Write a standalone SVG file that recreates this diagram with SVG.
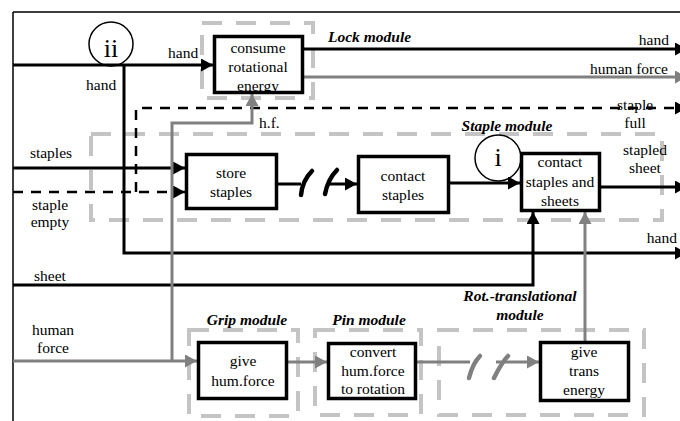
<svg xmlns="http://www.w3.org/2000/svg" width="680" height="421" viewBox="0 0 680 421" font-family="'Liberation Serif', 'DejaVu Serif', serif">
<defs>
<marker id="ab" markerUnits="userSpaceOnUse" markerWidth="13" markerHeight="13" refX="12" refY="6.5" orient="auto"><path d="M0,0 L12,6.5 L0,13 z" fill="#000"/></marker>
<marker id="ag" markerUnits="userSpaceOnUse" markerWidth="13" markerHeight="13" refX="12" refY="6.5" orient="auto"><path d="M0,0 L12,6.5 L0,13 z" fill="#808080"/></marker>
<style>
text{font-family:'Liberation Serif','DejaVu Serif',serif;font-size:15.5px;fill:#000}
.c{text-anchor:middle}
.e{text-anchor:end}
.m{font-weight:bold;font-style:italic}
.mod{fill:none;stroke:#c4c4c4;stroke-width:4;stroke-dasharray:20 14}
.box{fill:#fff;stroke:#000;stroke-width:3.5}
.k{fill:none;stroke:#000;stroke-width:3}
.g{fill:none;stroke:#808080;stroke-width:3}
.d{fill:none;stroke:#000;stroke-width:2.5;stroke-dasharray:10 8}
.hk{fill:none;stroke:#000;stroke-width:4.5;stroke-linecap:round}
.hg{fill:none;stroke:#808080;stroke-width:4.5;stroke-linecap:round}
.ci{fill:none;stroke:#000;stroke-width:1.5}
</style>
</defs>
<g id="frame">
<path d="M13,12 H680 M13,12 V421" fill="none" stroke="#000" stroke-width="1.5"/>
</g>
<g id="modules">
<rect class="mod" x="202" y="23" width="111" height="75"/>
<rect class="mod" x="91" y="134" width="571" height="86"/>
<rect class="mod" x="189" y="330" width="109" height="86"/>
<rect class="mod" x="315" y="330" width="106" height="85"/>
<rect class="mod" x="439" y="330" width="205" height="85"/>
<text class="m" x="328" y="42">Lock module</text>
<text class="m c" x="507" y="131">Staple module</text>
<text class="m c" x="247" y="325">Grip module</text>
<text class="m c" x="369" y="325">Pin module</text>
<text class="m c" x="520" y="301">Rot.-translational</text>
<text class="m c" x="520" y="320">module</text>
</g>
<g id="connectors">
<path class="k" d="M13,65 H213" marker-end="url(#ab)"/>
<path class="k" d="M124,65 V253 H687" marker-end="url(#ab)"/>
<path class="k" d="M304,49 H687" marker-end="url(#ab)"/>
<path class="g" d="M304,77 H687" marker-end="url(#ag)"/>
<path class="d" d="M136,192 V108 H687" marker-end="url(#ab)"/>
<path class="d" d="M13,192 H185" marker-end="url(#ab)"/>
<path class="k" d="M13,168 H185" marker-end="url(#ab)"/>
<path class="k" d="M278,184 H301"/>
<path class="hk" d="M312,171 C307,176 302,185 301,195"/>
<path class="hk" d="M337,170 C332,175 327,184 325,194"/>
<path class="k" d="M327,184 H357" marker-end="url(#ab)"/>
<path class="k" d="M450,183 H520" marker-end="url(#ab)"/>
<path class="k" d="M601,187 H687" marker-end="url(#ab)"/>
<path class="k" d="M13,285 H533 V212" marker-end="url(#ab)"/>
<path class="g" d="M13,361 H197" marker-end="url(#ag)"/>
<path class="g" d="M172,361 V123 H252 V94" marker-end="url(#ag)"/>
<path class="g" d="M288,362 H327" marker-end="url(#ag)"/>
<path class="g" d="M417,362 H470"/>
<path class="hg" d="M480,356 C475,361 471,370 469,378"/>
<path class="hg" d="M508,356 C503,361 498,370 494,378"/>
<path class="g" d="M496,362 H539" marker-end="url(#ag)"/>
<path class="g" d="M585,341 V212" marker-end="url(#ag)"/>
</g>
<g id="labels">
<text x="168" y="58">hand</text>
<text x="86" y="90">hand</text>
<text class="e" x="669" y="45">hand</text>
<text class="e" x="668" y="74">human force</text>
<text class="c" x="635" y="110">staple</text>
<text class="c" x="635" y="128">full</text>
<text class="c" x="645" y="155">stapled</text>
<text class="c" x="645" y="173">sheet</text>
<text class="e" x="677" y="243">hand</text>
<text class="c" x="51" y="158">staples</text>
<text class="c" x="50" y="210">staple</text>
<text class="c" x="50" y="227">empty</text>
<text class="c" x="50" y="281">sheet</text>
<text x="259" y="128">h.f.</text>
<text class="c" x="53" y="335">human</text>
<text class="c" x="53" y="353">force</text>
</g>
<g id="n-consume">
<rect class="box" x="214.5" y="36.5" width="88" height="56"/>
<text class="c" x="258" y="53">consume</text>
<text class="c" x="258" y="72">rotational</text>
<text class="c" x="258" y="91">energy</text>
</g>
<g id="n-store">
<rect class="box" x="186.5" y="154.5" width="90" height="54"/>
<text class="c" x="231" y="178">store</text>
<text class="c" x="231" y="197">staples</text>
</g>
<g id="n-contact">
<rect class="box" x="358.5" y="156.5" width="90" height="56"/>
<text class="c" x="403" y="181">contact</text>
<text class="c" x="403" y="200">staples</text>
</g>
<g id="n-csas">
<rect class="box" x="521.5" y="153.5" width="78" height="57"/>
<text class="c" x="560" y="167">contact</text>
<text class="c" x="560" y="187">staples and</text>
<text class="c" x="560" y="206">sheets</text>
</g>
<g id="n-grip">
<rect class="box" x="198.5" y="342.5" width="88" height="56"/>
<text class="c" x="243" y="366">give</text>
<text class="c" x="243" y="386">hum.force</text>
</g>
<g id="n-convert">
<rect class="box" x="328.5" y="343.5" width="87" height="55"/>
<text class="c" x="373" y="357">convert</text>
<text class="c" x="373" y="376">hum.force</text>
<text class="c" x="373" y="394">to rotation</text>
</g>
<g id="n-trans">
<rect class="box" x="540.5" y="342.5" width="88" height="58"/>
<text class="c" x="584" y="357">give</text>
<text class="c" x="584" y="376">trans</text>
<text class="c" x="584" y="395">energy</text>
</g>
<g id="c-ii">
<circle class="ci" cx="111" cy="44" r="22"/>
<text class="c" x="111" y="57" style="font-size:26px">ii</text>
</g>
<g id="c-i">
<circle class="ci" cx="498" cy="158" r="23"/>
<text class="c" x="498" y="166" style="font-size:26px">i</text>
</g>
</svg>
